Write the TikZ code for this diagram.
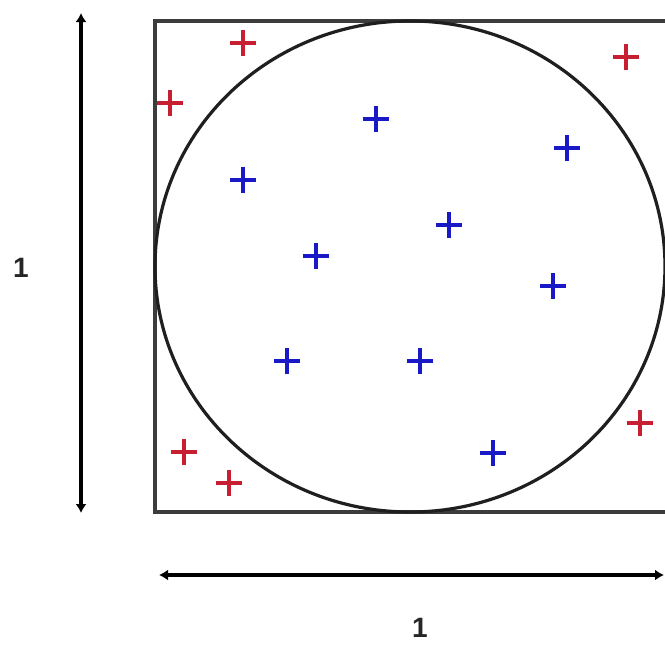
\documentclass[tikz,border=0pt]{standalone}
\usepackage{fontspec}
\setmainfont{Liberation Sans}
\usetikzlibrary{shapes.misc,arrows.meta}
\definecolor{redmark}{RGB}{200,30,50}
\definecolor{bluemark}{RGB}{25,25,200}
\definecolor{boxgray}{RGB}{60,60,60}
\tikzset{
  plusmark/.style={draw, cross out, minimum size=18.4pt, inner sep=0pt, outer sep=0pt, rotate=45, line width=3.8pt},
  redpt/.style={plusmark, draw=redmark},
  bluept/.style={plusmark, draw=bluemark},
  dimarrow/.style={line width=3.2pt, {Latex[length=9pt,width=11pt]}-{Latex[length=9pt,width=11pt]}},
  lbl/.style={font=\bfseries\fontsize{28}{32}\selectfont, inner sep=0pt, text=black!85}
}
\begin{document}
\begin{tikzpicture}[x=1pt,y=-1pt]
\useasboundingbox (0,0) rectangle (665,645);
\clip (0,0) rectangle (665,645);
\fill[white] (0,0) rectangle (665,645);
% square
\draw[boxgray, line width=4.2pt] (155,21) rectangle (668,512);
% circle
\draw[black!88, line width=3.2pt] (410,266.5) ellipse [x radius=255, y radius=245.5];
% red points (outside)
\node[redpt] (r1) at (243,43) {};
\node[redpt] (r2) at (170,103) {};
\node[redpt] (r3) at (626,57) {};
\node[redpt] (r4) at (640,423) {};
\node[redpt] (r5) at (184,452) {};
\node[redpt] (r6) at (229,483) {};
% blue points (inside)
\node[bluept] (b1) at (376,119) {};
\node[bluept] (b2) at (243,180) {};
\node[bluept] (b3) at (567,148) {};
\node[bluept] (b4) at (449,225) {};
\node[bluept] (b5) at (316,256) {};
\node[bluept] (b6) at (553,286) {};
\node[bluept] (b7) at (287,361) {};
\node[bluept] (b8) at (420,361) {};
\node[bluept] (b9) at (493,453) {};
% dimension arrows
\coordinate (vtop) at (81,13);
\coordinate (vbot) at (81,513);
\coordinate (hleft) at (159,575);
\coordinate (hright) at (664,575);
\draw[dimarrow] (vtop) -- (vbot);
\draw[dimarrow] (hleft) -- (hright);
\node[lbl] (ly) at (21,268) {1};
\node[lbl] (lx) at (420,628) {1};
\end{tikzpicture}
\end{document}
